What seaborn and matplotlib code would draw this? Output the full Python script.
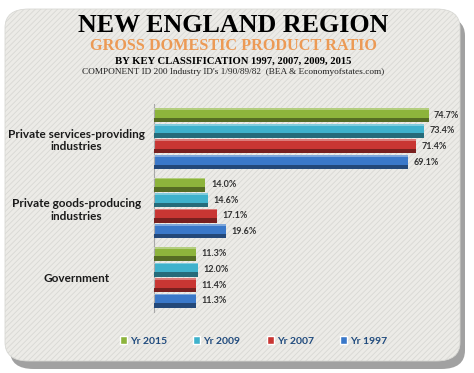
import pandas as pd
import numpy as np
import matplotlib.pyplot as plt
import seaborn as sns
from matplotlib.patches import FancyBboxPatch, Rectangle

categories = ['Private services-providing\nindustries', 'Private goods-producing\nindustries', 'Government']
years = ['Yr 2015', 'Yr 2009', 'Yr 2007', 'Yr 1997']
v2015 = [74.7, 14.0, 11.3]
v2009 = [73.4, 14.6, 12.0]
v2007 = [71.4, 17.1, 11.4]
v1997 = [69.1, 19.6, 11.3]
colors = ['#8db43c', '#3fb2cc', '#c93633', '#3a78c9']

rows = []
for yr, vals in zip(years, [v2015, v2009, v2007, v1997]):
    for c, v in zip(categories, vals):
        rows.append({'cat': c, 'year': yr, 'val': v})
df = pd.DataFrame(rows)

sns.set_style('white')
plt.rcParams['font.family'] = ['Lato', 'DejaVu Sans']
plt.rcParams['hatch.color'] = '#f6f6f3'
plt.rcParams['hatch.linewidth'] = 0.6

fig = plt.figure(figsize=(4.74, 3.73), dpi=100)
fig.patch.set_facecolor('white')

# rounded panel with shadow
W, H = 474, 373
shadow = FancyBboxPatch((10 / W, 4 / H), 455 / W, 352 / H, boxstyle='round,pad=0,rounding_size=0.05',
                        transform=fig.transFigure, facecolor='#555555', edgecolor='none', alpha=0.55, zorder=-2)
panel = FancyBboxPatch((5 / W, 12 / H), 455 / W, 352 / H, boxstyle='round,pad=0,rounding_size=0.05',
                       transform=fig.transFigure, facecolor='#ecebe7', edgecolor='#d8d8d4', lw=0.6,
                       hatch='//////', zorder=-1)
fig.patches.extend([shadow, panel])

ax = fig.add_axes([154 / W, 1 - 312 / H, 294 / W, 208 / H])
ax.patch.set_alpha(0)
sns.barplot(data=df, y='cat', x='val', hue='year', hue_order=years, palette=colors,
            orient='h', width=0.9, gap=0.1, ax=ax, saturation=1, edgecolor='none')

# darker lower strip for a bevel look
for bars, col in zip(ax.containers, colors):
    dark = tuple(np.array(plt.matplotlib.colors.to_rgb(col)) * 0.6)
    for p in bars:
        x0, y0, w, h = p.get_x(), p.get_y(), p.get_width(), p.get_height()
        ax.add_patch(Rectangle((x0, y0 + h * 0.68), w, h * 0.32, facecolor=dark, edgecolor='none', zorder=3))
        ax.add_patch(Rectangle((x0, y0), w, h * 0.12, facecolor='white', alpha=0.35, edgecolor='none', zorder=3))
    ax.bar_label(bars, fmt='%.1f%%', padding=4, fontsize=6.5, fontweight='bold', color='#333333')

ax.set_xlim(0, 80)
ax.set_xlabel('')
ax.set_ylabel('')
ax.set_xticks([])
for lab in ax.get_yticklabels():
    lab.set_fontweight('bold')
    lab.set_fontsize(8.5)
    lab.set_horizontalalignment('center')
    lab.set_color('#1a1a1a')
ax.tick_params(axis='y', length=0, pad=56)
for s in ['top', 'right', 'bottom']:
    ax.spines[s].set_visible(False)
ax.spines['left'].set_color('#a8a8a8')
ax.legend_.remove()

handles = [Rectangle((0, 0), 1, 1, facecolor=c) for c in colors]
fig.legend(handles, years, loc='center', bbox_to_anchor=(0.535, 1 - 341 / H), ncol=4, frameon=False,
           handlelength=0.7, handleheight=0.7, handletextpad=0.3, columnspacing=2.5,
           prop={'weight': 'bold', 'size': 7.5}, labelcolor='#1f4a7d')

fig.text(0.492, 1 - 25 / H, 'NEW ENGLAND REGION', ha='center', va='center', fontsize=18.7,
         fontweight='bold', family='Liberation Serif', color='black')
fig.text(0.492, 1 - 46 / H, 'GROSS DOMESTIC PRODUCT RATIO', ha='center', va='center', fontsize=11.7,
         fontweight='bold', family='Liberation Serif', color='#ec9a55')
fig.text(0.492, 1 - 61 / H, 'BY KEY CLASSIFICATION 1997, 2007, 2009, 2015', ha='center', va='center',
         fontsize=7.7, fontweight='bold', family='Liberation Serif', color='black')
fig.text(0.492, 1 - 72 / H, "COMPONENT ID 200 Industry ID's 1/90/89/82  (BEA & Economyofstates.com)",
         ha='center', va='center', fontsize=6.7, family='Liberation Serif', color='#222222')

fig.savefig('out.png', dpi=100)
